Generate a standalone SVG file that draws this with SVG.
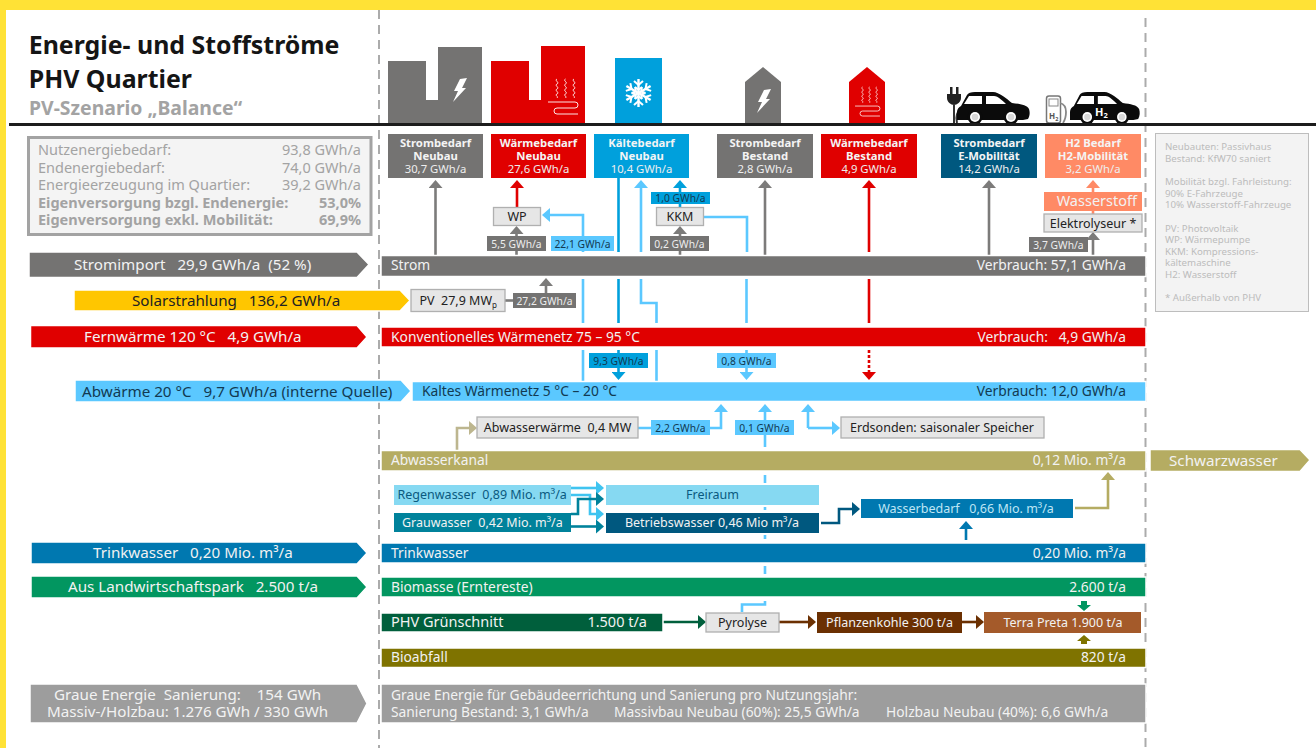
<svg xmlns="http://www.w3.org/2000/svg" width="1316" height="748" viewBox="0 0 1316 748">
<style>
text{font-family:"Noto Sans","Open Sans","DejaVu Sans",sans-serif;white-space:pre;font-size:13.8px;fill:#f2f2f2}
.big{font-size:15.2px}
.m{text-anchor:middle}.e{text-anchor:end}
.h{font-size:11.3px;font-weight:700;text-anchor:middle;fill:#f4f4f4}
.v{font-size:11.3px;text-anchor:middle;fill:#eee}
.lb{font-size:10.3px;text-anchor:middle;fill:#eee}
.lbd{font-size:10.3px;text-anchor:middle;fill:#123a52}
.bar{stroke:#fff;stroke-width:1.5}
.box{fill:#e6e6e6;stroke:#b0b0b0;stroke-width:1.3}
.bt{fill:#222;text-anchor:middle;font-size:12.5px}
.s{font-size:12.5px}
.info{font-size:14.5px;fill:#a3a3a3}
.note{font-size:9.7px;fill:#bcbcbc}
.c{fill:none;stroke-width:2.6}
.g{stroke:#7c7b7a}.r{stroke:#e00000}.lbl{stroke:#5bc8ff}.db{stroke:#00a0dc}.sal{stroke:#ff8a65}
.dash{fill:none;stroke:#ababab;stroke-width:2;stroke-dasharray:9 6}
.w{fill:none;stroke:#fff;stroke-width:.9}
</style>
<defs>
<marker id="ar" markerUnits="userSpaceOnUse" markerWidth="14" markerHeight="14" refX="0" refY="7" orient="auto"><path d="M0 0L8 7L0 14Z" fill="#e00000"/></marker>
<marker id="agr" markerUnits="userSpaceOnUse" markerWidth="14" markerHeight="14" refX="0" refY="7" orient="auto"><path d="M0 0L8 7L0 14Z" fill="#7c7b7a"/></marker>
<marker id="al" markerUnits="userSpaceOnUse" markerWidth="14" markerHeight="14" refX="0" refY="7" orient="auto"><path d="M0 0L8 7L0 14Z" fill="#5bc8ff"/></marker>
<marker id="ad" markerUnits="userSpaceOnUse" markerWidth="14" markerHeight="14" refX="0" refY="7" orient="auto"><path d="M0 0L8 7L0 14Z" fill="#00a0dc"/></marker>
<marker id="as" markerUnits="userSpaceOnUse" markerWidth="14" markerHeight="14" refX="0" refY="7" orient="auto"><path d="M0 0L8 7L0 14Z" fill="#ff8a65"/></marker>
<marker id="at" markerUnits="userSpaceOnUse" markerWidth="14" markerHeight="14" refX="0" refY="7" orient="auto"><path d="M0 0L8 7L0 14Z" fill="#bdb68f"/></marker>
<marker id="ak" markerUnits="userSpaceOnUse" markerWidth="14" markerHeight="14" refX="0" refY="7" orient="auto"><path d="M0 0L8 7L0 14Z" fill="#b5ac62"/></marker>
<marker id="ac" markerUnits="userSpaceOnUse" markerWidth="14" markerHeight="14" refX="0" refY="7" orient="auto"><path d="M0 0L8 7L0 14Z" fill="#3fc4f0"/></marker>
<marker id="at2" markerUnits="userSpaceOnUse" markerWidth="14" markerHeight="14" refX="0" refY="7" orient="auto"><path d="M0 0L8 7L0 14Z" fill="#00829b"/></marker>
<marker id="abw" markerUnits="userSpaceOnUse" markerWidth="14" markerHeight="14" refX="0" refY="7" orient="auto"><path d="M0 0L8 7L0 14Z" fill="#00587f"/></marker>
<marker id="atw" markerUnits="userSpaceOnUse" markerWidth="14" markerHeight="14" refX="0" refY="7" orient="auto"><path d="M0 0L8 7L0 14Z" fill="#0078b0"/></marker>
<marker id="ags" markerUnits="userSpaceOnUse" markerWidth="14" markerHeight="14" refX="0" refY="7" orient="auto"><path d="M0 0L8 7L0 14Z" fill="#005f3c"/></marker>
<marker id="abr" markerUnits="userSpaceOnUse" markerWidth="14" markerHeight="14" refX="0" refY="7" orient="auto"><path d="M0 0L8 7L0 14Z" fill="#6b3002"/></marker>
<path id="bolt" d="M460 79L467 78L462 88L466 88L453 102L458 91L454 91Z" fill="#fff"/>
<path id="wave" d="M0 0c-3 1.500 3 3.500 0 5s3 3.500 0 5s3 3.500 0 5s2 2 0 4"/>
<g id="heat" class="w">
<use href="#wave" transform="translate(557 79)"/><use href="#wave" transform="translate(565.500 79)"/><use href="#wave" transform="translate(574 79)"/>
<path d="M548 102H575a3 3 0 0 1 0 6H557a3 3 0 0 0 0 6H578"/>
</g>
<g id="car">
<path d="M0 28L0 20C0 17 2 15 4 14L10 3C11 1 14 0 18 0H36C42 0 50 7 55 11C63 12 70 13 72 17C73 20 73 24 71 27L66 28Z" fill="#0b0b0b"/>
<path d="M7 12L12 4H25V12ZM29 4H37C41 4 46 9 49 12H29Z" fill="#fff"/>
<circle cx="18" cy="25" r="7.500" fill="#0b0b0b"/><circle cx="18" cy="25" r="5" fill="#fff"/><circle cx="18" cy="25" r="3.300" fill="#d8d8d8"/>
<circle cx="54" cy="25" r="7.500" fill="#0b0b0b"/><circle cx="54" cy="25" r="5" fill="#fff"/><circle cx="54" cy="25" r="3.300" fill="#d8d8d8"/>
</g>
<g id="arm" fill="none" stroke="#fff" stroke-width="2.400"><path d="M0 0V-14"/><path d="M-4.500 -12L0 -8L4.500 -12" stroke-width="2"/><path d="M-3.500 -6L0 -3L3.500 -6" stroke-width="2"/></g>
</defs>

<rect width="1316" height="748" fill="#fff"/>
<rect width="1316" height="10" fill="#ffe236"/>
<rect y="0" width="6" height="748" fill="#ffe236"/>

<path class="dash" d="M379 10V748"/>
<path class="dash" d="M1145.500 18V748"/>

<g id="title">
<text x="28.700" y="54" style="font-size:24.900px;font-weight:700;fill:#151515">Energie- und Stoffströme</text>
<text x="28.700" y="88" style="font-size:24.900px;font-weight:700;fill:#151515">PHV Quartier</text>
<text x="29" y="115" style="font-size:19.400px;font-weight:700;fill:#a3a3a3">PV-Szenario „Balance“</text>
</g>

<g id="icons">
<path d="M388 124V61H426V100H438V47H482V124Z" fill="#747372"/>
<use href="#bolt"/>
<path d="M491 124V61H529V100H541V46H585V124Z" fill="#e00000"/>
<use href="#heat"/>
<rect x="615" y="58" width="47" height="66" fill="#00a0dc"/>
<g transform="translate(638.500 93)"><use href="#arm"/><use href="#arm" transform="rotate(60)"/><use href="#arm" transform="rotate(120)"/><use href="#arm" transform="rotate(180)"/><use href="#arm" transform="rotate(240)"/><use href="#arm" transform="rotate(300)"/></g>
<path d="M745 124V82L763 67L781 82V124Z" fill="#747372"/>
<use href="#bolt" transform="translate(304 11)"/>
<path d="M849 124V82L867 67L885 82V124Z" fill="#e00000"/>
<use href="#heat" transform="translate(400.200 21.400) scale(.83)"/>
<path d="M950 87h2.500v8h-2.500zM956 87h2.500v8h-2.500zM947 94H961V98C961 102 957 105 954 105C951 105 947 102 947 98Z" fill="#222"/>
<path d="M954 105V123M957 123C955 115 958 111 961 109" fill="none" stroke="#333" stroke-width="2"/>
<use href="#car" transform="translate(957 92)"/>
<rect x="1046.500" y="96" width="14" height="27" rx="2.500" fill="#fff" stroke="#777" stroke-width="1.500"/>
<rect x="1049" y="99" width="9" height="7" fill="#fff" stroke="#888"/>
<path d="M1060 103C1064 104 1066 108 1066 112C1066 116 1065 120 1063 123" fill="none" stroke="#888" stroke-width="1.800"/>
<text x="1049" y="119" style="font-size:8px;font-weight:700;fill:#555">H<tspan dy="1.500" style="font-size:5.500px">2</tspan></text>
<use href="#car" transform="translate(1070 92) scale(.96 1)"/>
<text x="1095" y="116" style="font-size:11px;font-weight:700;fill:#fff">H<tspan dy="2" style="font-size:7.500px">2</tspan></text>
</g>
<rect x="9" y="123" width="1307" height="3" fill="#1c1c1c"/>

<g id="info">
<rect x="28.500" y="137.500" width="342.500" height="97" fill="#f4f4f4" stroke="#a3a3a3" stroke-width="3"/>
<text class="info" x="38" y="155">Nutzenergiebedarf:</text><text class="info e" x="361" y="155">93,8 GWh/a</text>
<text class="info" x="38" y="173">Endenergiebedarf:</text><text class="info e" x="361" y="173">74,0 GWh/a</text>
<text class="info" x="38" y="190">Energieerzeugung im Quartier:</text><text class="info e" x="361" y="190">39,2 GWh/a</text>
<text class="info" x="38" y="208" style="font-weight:700">Eigenversorgung bzgl. Endenergie:</text><text class="info e" x="361" y="208" style="font-weight:700">53,0%</text>
<text class="info" x="38" y="225" style="font-weight:700">Eigenversorgung exkl. Mobilität:</text><text class="info e" x="361" y="225" style="font-weight:700">69,9%</text>
</g>

<g id="note">
<rect x="1155.500" y="133.500" width="153" height="178" fill="#f3f3f3" stroke="#bdbdbd"/>
<text class="note" x="1165" y="150">Neubauten: Passivhaus</text>
<text class="note" x="1165" y="162">Bestand: KfW70 saniert</text>
<text class="note" x="1165" y="185">Mobilität bzgl. Fahrleistung:</text>
<text class="note" x="1165" y="197">90% E-Fahrzeuge</text>
<text class="note" x="1165" y="208">10% Wasserstoff-Fahrzeuge</text>
<text class="note" x="1165" y="232">PV: Photovoltaik</text>
<text class="note" x="1165" y="243">WP: Wärmepumpe</text>
<text class="note" x="1165" y="255">KKM: Kompressions-</text>
<text class="note" x="1165" y="266">kältemaschine</text>
<text class="note" x="1165" y="278">H2: Wasserstoff</text>
<text class="note" x="1165" y="301">* Außerhalb von PHV</text>
</g>

<g id="connectors">
<path class="c g" d="M435.500 255V188" marker-end="url(#agr)"/>
<path class="c r" d="M517 207V188" marker-end="url(#ar)"/>
<path class="c g" d="M516.500 255V234" marker-end="url(#agr)"/>
<path class="c lbl" d="M583 252V215H550" marker-end="url(#al)"/>
<path class="c db" d="M618.500 178V252"/>
<path class="c lbl" d="M641 252V188" marker-end="url(#al)"/>
<path class="c db" d="M680 207V188" marker-end="url(#ad)"/>
<path class="c g" d="M680 255V234" marker-end="url(#agr)"/>
<path class="c lbl" d="M703 217H747V252"/>
<path class="c g" d="M765 255V188" marker-end="url(#agr)"/>
<path class="c r" d="M869 252V188" marker-end="url(#ar)"/>
<path class="c g" d="M989 255V188" marker-end="url(#agr)"/>
<path class="c sal" d="M1093 214V188" marker-end="url(#as)"/>
<path class="c g" d="M1093 255V240" marker-end="url(#agr)"/>
<path class="c g" d="M505 300.500H513"/>
<path class="c g" d="M546 293V286" marker-end="url(#agr)"/>
<path class="c lbl" d="M583 279V323M583 350V382"/>
<path class="c db" d="M618.500 279V323"/>
<path class="c db" d="M618.500 350V372" marker-end="url(#ad)"/>
<path class="c lbl" d="M641 279V303H656.500V323M656.500 350V382"/>
<path class="c lbl" d="M746.500 279V323"/>
<path class="c lbl" d="M746.500 350V372" marker-end="url(#al)"/>
<path class="c r" d="M869 279V323"/>
<path class="c r" d="M869 350V372" stroke-dasharray="3 2" marker-end="url(#ar)"/>
<path class="c" stroke="#bdb68f" d="M457 451V428H469" marker-end="url(#at)"/>
<path class="c lbl" d="M638 428H721V412" marker-end="url(#al)"/>
<path class="c lbl" d="M765 447V412" marker-end="url(#al)"/>
<path class="c lbl" d="M808 428V412" marker-end="url(#al)"/>
<path class="c lbl" d="M808 428H832" marker-end="url(#al)"/>
<path class="c lbl" d="M765 475V483M765 507V510M765 535V539M765 566V574M765 601V604.500H742V612"/>
<path class="c" stroke="#3fc4f0" d="M571 488H596" marker-end="url(#ac)"/>
<path class="c" stroke="#3fc4f0" d="M571 495H590V514H596" marker-end="url(#ac)"/>
<path class="c" stroke="#00829b" d="M571 514H578V499H596" marker-end="url(#at2)"/>
<path class="c" stroke="#00829b" d="M571 526.500H596" marker-end="url(#at2)"/>
<path class="c" stroke="#00587f" d="M821 523H839V509H852" marker-end="url(#abw)"/>
<path class="c" stroke="#b5ac62" d="M1075 508H1108V480" marker-end="url(#ak)"/>
<path class="c" stroke="#0078b0" d="M966 540V529" marker-end="url(#atw)"/>
<path class="c" stroke="#005f3c" d="M663 622H698" marker-end="url(#ags)"/>
<path class="c" stroke="#6b3002" d="M779 622H808" marker-end="url(#abr)"/>
<path class="c" stroke="#6b3002" d="M962 622H976" marker-end="url(#abr)"/>
<path d="M1081 601H1087V605H1091L1084 611L1077 605H1081Z" fill="#029660"/>
<path d="M1077 641L1084 635L1091 641H1087V644H1081V641Z" fill="#7f7300"/>
</g>

<g id="n-strom-neu"><rect x="388" y="134" width="95" height="44" fill="#747372"/><text class="h" x="435.500" y="147">Strombedarf</text><text class="h" x="435.500" y="160">Neubau</text><text class="v" x="435.500" y="173">30,7 GWh/a</text></g>
<g id="n-waerme-neu"><rect x="491" y="134" width="95" height="44" fill="#e00000"/><text class="h" x="538.500" y="147">Wärmebedarf</text><text class="h" x="538.500" y="160">Neubau</text><text class="v" x="538.500" y="173">27,6 GWh/a</text></g>
<g id="n-kaelte-neu"><rect x="594" y="134" width="95" height="44" fill="#00a0dc"/><text class="h" x="641.500" y="147">Kältebedarf</text><text class="h" x="641.500" y="160">Neubau</text><text class="v" x="641.500" y="173">10,4 GWh/a</text></g>
<g id="n-strom-best"><rect x="717" y="134" width="96" height="44" fill="#747372"/><text class="h" x="765" y="147">Strombedarf</text><text class="h" x="765" y="160">Bestand</text><text class="v" x="765" y="173">2,8 GWh/a</text></g>
<g id="n-waerme-best"><rect x="821" y="134" width="96" height="44" fill="#e00000"/><text class="h" x="869" y="147">Wärmebedarf</text><text class="h" x="869" y="160">Bestand</text><text class="v" x="869" y="173">4,9 GWh/a</text></g>
<g id="n-emob"><rect x="941" y="134" width="96" height="44" fill="#00587f"/><text class="h" x="989" y="147">Strombedarf</text><text class="h" x="989" y="160">E-Mobilität</text><text class="v" x="989" y="173">14,2 GWh/a</text></g>
<g id="n-h2"><rect x="1045" y="134" width="96" height="44" fill="#ff8a65"/><text class="h" x="1093" y="147">H2 Bedarf</text><text class="h" x="1093" y="160">H2-Mobilität</text><text class="v" x="1093" y="173">3,2 GWh/a</text></g>

<g id="n-wp"><rect class="box" x="493.500" y="207.500" width="47" height="18"/><text class="bt" x="517" y="221">WP</text></g>
<g id="n-kkm"><rect class="box" x="656.500" y="207.500" width="47" height="18"/><text class="bt" x="680" y="221">KKM</text></g>
<g id="n-wasserstoff"><rect x="1044" y="192" width="98" height="19" fill="#ff8a65"/><text class="e" x="1137" y="206" style="font-size:14.500px">Wasserstoff</text></g>
<g id="n-elektro"><rect class="box" x="1044" y="214" width="98" height="18"/><text class="bt" x="1093" y="228">Elektrolyseur *</text></g>

<g id="labels">
<rect x="487" y="236" width="59" height="15" fill="#747372"/><text class="lb" x="516.500" y="247.500">5,5 GWh/a</text>
<rect x="551" y="236" width="63" height="15" fill="#5bc8ff"/><text class="lbd" x="582.500" y="247.500">22,1 GWh/a</text>
<rect x="651" y="192" width="59" height="12" fill="#00a0dc"/><text class="lbd" x="680.500" y="202">1,0 GWh/a</text>
<rect x="650" y="236" width="59" height="15" fill="#747372"/><text class="lb" x="679.500" y="247.500">0,2 GWh/a</text>
<rect x="1029" y="237" width="59" height="15" fill="#747372"/><text class="lb" x="1058.500" y="248.500">3,7 GWh/a</text>
<rect x="513" y="293" width="63" height="15" fill="#747372"/><text class="lb" x="544.500" y="304.500">27,2 GWh/a</text>
<rect x="589" y="353" width="59" height="15" fill="#00a0dc"/><text class="lbd" x="618.500" y="364.500">9,3 GWh/a</text>
<rect x="717" y="353" width="59" height="15" fill="#5bc8ff"/><text class="lbd" x="746.500" y="364.500">0,8 GWh/a</text>
<rect x="651" y="420" width="59" height="15" fill="#5bc8ff"/><text class="lbd" x="680.500" y="431.500">2,2 GWh/a</text>
<rect x="735" y="420" width="59" height="15" fill="#5bc8ff"/><text class="lbd" x="764.500" y="431.500">0,1 GWh/a</text>
</g>

<g id="n-strom"><rect class="bar" x="381" y="255.500" width="765" height="21" fill="#747372"/><text x="391" y="270">Strom</text><text class="e" x="1126" y="270">Verbrauch: 57,1 GWh/a</text></g>
<g id="n-import"><path class="bar" d="M29 252H357L369 264.500L357 277.500H29Z" fill="#747372"/><text class="big" x="74" y="270">Stromimport   29,9 GWh/a  (52 %)</text></g>
<g id="n-solar"><path class="bar" d="M74 290H400L410 300.500L400 311H74Z" fill="#ffc600"/><text class="big" x="132" y="306" style="fill:#222">Solarstrahlung   136,2 GWh/a</text></g>
<g id="n-pv"><rect class="box" x="411" y="289.500" width="94" height="22"/><text class="s" x="419.500" y="305" style="fill:#222">PV  27,9 MW<tspan dy="2.500" style="font-size:8px">p</tspan></text></g>
<g id="n-konv"><rect class="bar" x="381" y="327" width="765" height="20" fill="#e00000"/><text x="391" y="342">Konventionelles Wärmenetz 75 – 95 °C</text><text class="e" x="1126" y="342">Verbrauch:   4,9 GWh/a</text></g>
<g id="n-fern"><path class="bar" d="M30.500 325.500H357L367 337L357 348H30.500Z" fill="#e00000"/><text class="big" x="84" y="342">Fernwärme 120 °C   4,9 GWh/a</text></g>
<g id="n-kalt"><rect class="bar" x="412" y="381.500" width="734" height="20" fill="#5bc8ff"/><text x="422" y="396" style="fill:#123a52">Kaltes Wärmenetz 5 °C – 20 °C</text><text class="e" x="1126" y="396" style="fill:#123a52">Verbrauch: 12,0 GWh/a</text></g>
<g id="n-abw"><path class="bar" d="M75 380H401L411 391L401 402H75Z" fill="#5bc8ff"/><text class="big" x="82" y="397" style="fill:#123a52">Abwärme 20 °C   9,7 GWh/a (interne Quelle)</text></g>
<g id="n-abwaerme"><rect class="box" x="477" y="417" width="161" height="21"/><text class="bt" x="557.500" y="432">Abwasserwärme  0,4 MW</text></g>
<g id="n-erd"><rect class="box" x="841" y="417" width="203" height="21"/><text class="bt" x="942" y="432">Erdsonden: saisonaler Speicher</text></g>
<g id="n-kanal"><rect class="bar" x="381" y="450.500" width="765" height="20.500" fill="#b5ac62"/><text x="391" y="465">Abwasserkanal</text><text class="e" x="1126" y="465">0,12 Mio. m³/a</text></g>
<g id="n-schwarz"><path class="bar" d="M1150 449.500H1300L1310 460L1300 471.500H1150Z" fill="#b5ac62"/><text class="big" x="1169" y="466">Schwarzwasser</text></g>
<g id="n-regen"><rect x="394" y="485" width="177" height="20" fill="#86d9f2"/><text class="s" x="397.500" y="499" style="fill:#0a5a80">Regenwasser  0,89 Mio. m³/a</text></g>
<g id="n-grau"><rect x="394" y="513" width="177" height="19" fill="#00829b"/><text class="s" x="402" y="527">Grauwasser  0,42 Mio. m³/a</text></g>
<g id="n-frei"><rect x="606" y="485" width="213" height="20" fill="#86d9f2"/><text class="s m" x="712.500" y="499" style="fill:#0a5a80">Freiraum</text></g>
<g id="n-betrieb"><rect x="606" y="513" width="213" height="20" fill="#00587f"/><text class="s m" x="712" y="527">Betriebswasser 0,46 Mio m³/a</text></g>
<g id="n-bedarf"><rect x="861" y="499" width="212" height="19" fill="#0078b0"/><text class="s m" x="966" y="513" style="fill:#bfe6f5">Wasserbedarf   0,66 Mio. m³/a</text></g>
<g id="n-trink"><rect class="bar" x="381" y="543" width="765" height="20" fill="#0078b0"/><text x="391" y="558">Trinkwasser</text><text class="e" x="1126" y="558">0,20 Mio. m³/a</text></g>
<g id="n-trink-in"><path class="bar" d="M31 542H357L367 553L357 564H31Z" fill="#0078b0"/><text class="big" x="93" y="558">Trinkwasser   0,20 Mio. m³/a</text></g>
<g id="n-bio"><rect class="bar" x="381" y="577" width="765" height="20" fill="#029660"/><text x="391" y="592">Biomasse (Erntereste)</text><text class="e" x="1126" y="592">2.600 t/a</text></g>
<g id="n-land"><path class="bar" d="M31 576H357L367 587L357 598H31Z" fill="#029660"/><text class="big" x="68" y="592">Aus Landwirtschaftspark   2.500 t/a</text></g>
<g id="n-gruen"><rect class="bar" x="381" y="613" width="282" height="19" fill="#005f3c"/><text x="391" y="627" style="font-size:14.500px">PHV Grünschnitt</text><text class="e" x="647" y="627" style="font-size:14.500px">1.500 t/a</text></g>
<g id="n-pyro"><rect class="box" x="706" y="613" width="73" height="19"/><text class="bt" x="742.500" y="627">Pyrolyse</text></g>
<g id="n-kohle"><rect x="817" y="612" width="145" height="21" fill="#6b3002"/><text class="s m" x="889.500" y="627">Pflanzenkohle 300 t/a</text></g>
<g id="n-preta"><rect x="984" y="612" width="157" height="21" fill="#a45a2a"/><text class="s m" x="1063" y="627">Terra Preta 1.900 t/a</text></g>
<g id="n-bioab"><rect class="bar" x="381" y="648" width="765" height="19.500" fill="#7f7300"/><text x="391" y="662">Bioabfall</text><text class="e" x="1126" y="662">820 t/a</text></g>
<g id="n-graue"><rect class="bar" x="381" y="684" width="765" height="39" fill="#9d9d9d"/><text x="391" y="700">Graue Energie für Gebäudeerrichtung und Sanierung pro Nutzungsjahr:</text><text x="391" y="717">Sanierung Bestand: 3,1 GWh/a</text><text x="614" y="717">Massivbau Neubau (60%): 25,5 GWh/a</text><text x="886" y="717">Holzbau Neubau (40%): 6,6 GWh/a</text></g>
<g id="n-graue-in"><path class="bar" d="M30 684H357L367 703.500L357 723H30Z" fill="#9d9d9d"/><text class="big" x="54" y="700">Graue Energie  Sanierung:    154 GWh</text><text class="big" x="47" y="717">Massiv-/Holzbau: 1.276 GWh / 330 GWh</text></g>
</svg>
